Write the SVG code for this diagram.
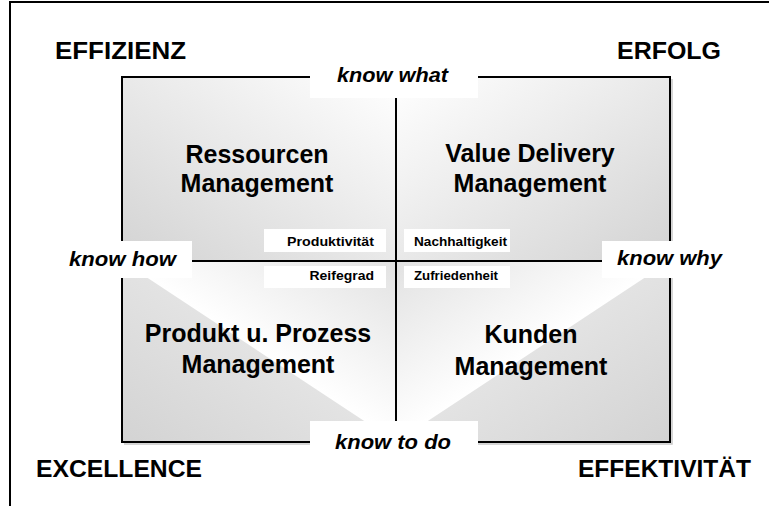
<svg xmlns="http://www.w3.org/2000/svg" width="769" height="506" viewBox="0 0 769 506">
  <defs>
    <!-- upper quadrants: soft diagonal light falloff -->
    <linearGradient id="gTL" x1="1" y1="0" x2="0" y2="1">
      <stop offset="0" stop-color="#ffffff"/>
      <stop offset="1" stop-color="#d3d3d3"/>
    </linearGradient>
    <linearGradient id="gTR" x1="0" y1="0" x2="1" y2="1">
      <stop offset="0" stop-color="#ffffff"/>
      <stop offset="1" stop-color="#d3d3d3"/>
    </linearGradient>
    <!-- lower quadrants: split along the diagonal -->
    <linearGradient id="gBLhi" gradientUnits="userSpaceOnUse" x1="312.8" y1="387" x2="396" y2="261">
      <stop offset="0" stop-color="#ffffff"/>
      <stop offset="1" stop-color="#e2e2e2"/>
    </linearGradient>
    <linearGradient id="gBLlo" gradientUnits="userSpaceOnUse" x1="205.2" y1="316" x2="122" y2="442">
      <stop offset="0" stop-color="#e3e3e3"/>
      <stop offset="1" stop-color="#d3d3d3"/>
    </linearGradient>
    <linearGradient id="gBRhi" gradientUnits="userSpaceOnUse" x1="479.2" y1="387" x2="396" y2="261">
      <stop offset="0" stop-color="#ffffff"/>
      <stop offset="1" stop-color="#e2e2e2"/>
    </linearGradient>
    <linearGradient id="gBRlo" gradientUnits="userSpaceOnUse" x1="586.8" y1="316" x2="670" y2="442">
      <stop offset="0" stop-color="#e3e3e3"/>
      <stop offset="1" stop-color="#d3d3d3"/>
    </linearGradient>
  </defs>
  <style>
    text { font-family: "Liberation Sans", Arial, sans-serif; font-weight: bold; fill: #000; }
    .corner { font-size: 24px; }
    .title { font-size: 25px; text-anchor: middle; }
    .know { font-size: 20px; font-style: italic; }
    .kpi { font-size: 13px; }
    .line { stroke: #000; stroke-width: 2; fill: none; }
    .pad { fill: #fff; }
  </style>

  <rect width="769" height="506" fill="#fff"/>

  <!-- outer frame (top and left edges) -->
  <path class="line" d="M10 506 V2 H769"/>

  <!-- quadrant backgrounds -->
  <g id="quadrant-ressourcen">
    <rect x="122" y="77" width="274" height="184" fill="url(#gTL)"/>
  </g>
  <g id="quadrant-value-delivery">
    <rect x="396" y="77" width="274" height="184" fill="url(#gTR)"/>
  </g>
  <g id="quadrant-produkt-prozess">
    <polygon points="122,261 396,261 396,442" fill="url(#gBLhi)"/>
    <polygon points="122,261 122,442 396,442" fill="url(#gBLlo)"/>
  </g>
  <g id="quadrant-kunden">
    <polygon points="396,261 670,261 396,442" fill="url(#gBRhi)"/>
    <polygon points="670,261 670,442 396,442" fill="url(#gBRlo)"/>
  </g>

  <!-- frame and axes -->
  <g id="axes">
    <path d="M124 444 H672 V79" stroke="#c8c8c8" stroke-width="1.5" fill="none"/>
    <rect class="line" x="122" y="77" width="548" height="365"/>
    <line class="line" x1="396" y1="77" x2="396" y2="442"/>
    <line class="line" x1="122" y1="261" x2="670" y2="261"/>
  </g>

  <!-- quadrant titles -->
  <g id="title-ressourcen">
    <text class="title" x="257" y="162.5">Ressourcen</text>
    <text class="title" x="257" y="192">Management</text>
  </g>
  <g id="title-value-delivery">
    <text class="title" x="530" y="162">Value Delivery</text>
    <text class="title" x="530" y="192">Management</text>
  </g>
  <g id="title-produkt-prozess">
    <text class="title" x="258" y="342">Produkt u. Prozess</text>
    <text class="title" x="258" y="373">Management</text>
  </g>
  <g id="title-kunden">
    <text class="title" x="531" y="343">Kunden</text>
    <text class="title" x="531" y="374.5">Management</text>
  </g>

  <!-- centre indicators -->
  <g id="kpi-produktivitaet">
    <rect class="pad" x="264" y="229" width="122" height="23"/>
    <text class="kpi" x="287" y="246" textLength="87" lengthAdjust="spacingAndGlyphs">Produktivität</text>
  </g>
  <g id="kpi-nachhaltigkeit">
    <rect class="pad" x="404" y="229" width="106" height="23"/>
    <text class="kpi" x="414" y="246" textLength="93" lengthAdjust="spacingAndGlyphs">Nachhaltigkeit</text>
  </g>
  <g id="kpi-reifegrad">
    <rect class="pad" x="264" y="266" width="122" height="22"/>
    <text class="kpi" x="309.5" y="280" textLength="64.5" lengthAdjust="spacingAndGlyphs">Reifegrad</text>
  </g>
  <g id="kpi-zufriedenheit">
    <rect class="pad" x="404" y="266" width="106" height="22"/>
    <text class="kpi" x="414" y="280" textLength="84" lengthAdjust="spacingAndGlyphs">Zufriedenheit</text>
  </g>

  <!-- axis labels -->
  <g id="know-what">
    <rect class="pad" x="310" y="58" width="168" height="40"/>
    <text class="know" x="337" y="82" textLength="111" lengthAdjust="spacingAndGlyphs">know what</text>
  </g>
  <g id="know-how">
    <rect class="pad" x="30" y="241" width="162" height="37"/>
    <text class="know" x="69" y="266" textLength="107" lengthAdjust="spacingAndGlyphs">know how</text>
  </g>
  <g id="know-why">
    <rect class="pad" x="602" y="241" width="150" height="37"/>
    <text class="know" x="617" y="265" textLength="105" lengthAdjust="spacingAndGlyphs">know why</text>
  </g>
  <g id="know-to-do">
    <rect class="pad" x="310" y="421" width="168" height="40"/>
    <text class="know" x="335" y="448.5" textLength="116" lengthAdjust="spacingAndGlyphs">know to do</text>
  </g>

  <!-- corner headings -->
  <g id="corner-effizienz">
    <text class="corner" x="55" y="59" textLength="131" lengthAdjust="spacingAndGlyphs">EFFIZIENZ</text>
  </g>
  <g id="corner-erfolg">
    <text class="corner" x="617" y="59" textLength="104" lengthAdjust="spacingAndGlyphs">ERFOLG</text>
  </g>
  <g id="corner-excellence">
    <text class="corner" x="36" y="477" textLength="166" lengthAdjust="spacingAndGlyphs">EXCELLENCE</text>
  </g>
  <g id="corner-effektivitaet">
    <text class="corner" x="578" y="477" textLength="173" lengthAdjust="spacingAndGlyphs">EFFEKTIVITÄT</text>
  </g>
</svg>
